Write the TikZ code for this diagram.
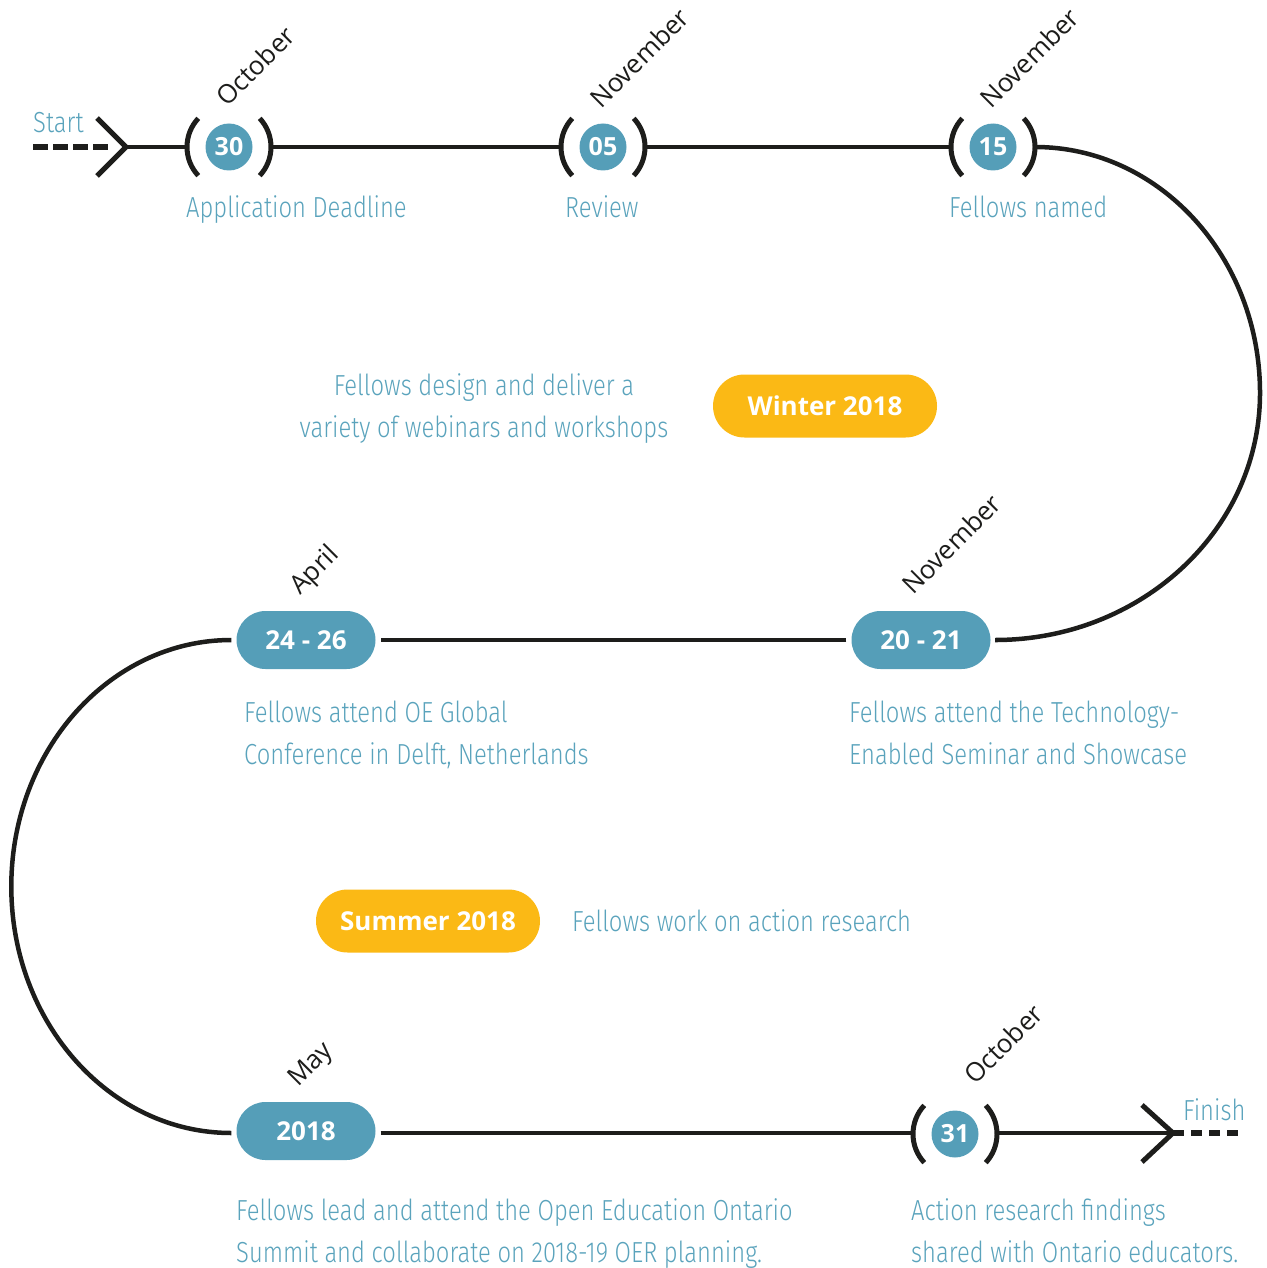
\documentclass[tikz,border=0pt]{standalone}
\usepackage{fontspec}
\setmainfont{Open Sans}
\newfontfamily\lightf{Fira Sans Light}[FakeStretch=0.82]
\usetikzlibrary{shapes.misc,calc}
\definecolor{tlblue}{HTML}{559EB8}
\definecolor{txtblue}{HTML}{5AA3BC}
\definecolor{tlyellow}{HTML}{FBB915}
\definecolor{tlblack}{HTML}{1D1D1B}
\begin{document}
\begin{tikzpicture}[x=1pt,y=-1pt,
  track/.style={draw=tlblack,line width=4.5pt},
  parenarc/.style={draw=tlblack,line width=5pt},
  chev/.style={draw=tlblack,line width=5pt},
  dashstart/.style={draw=tlblack,line width=6pt,dash pattern=on 15pt off 5pt},
  dashend/.style={draw=tlblack,line width=6pt,dash pattern=on 11pt off 7pt},
  datecirc/.style={circle,fill=tlblue,text=white,minimum size=47pt,inner sep=0pt,
    font=\fontsize{25}{30}\selectfont\bfseries},
  datepill/.style={rounded rectangle,fill=tlblue,text=white,minimum width=139pt,
    minimum height=58pt,inner sep=0pt,font=\fontsize{26}{30}\selectfont\bfseries},
  seasonpill/.style={rounded rectangle,fill=tlyellow,text=white,minimum width=224pt,
    minimum height=63pt,inner sep=0pt,font=\fontsize{26}{30}\selectfont\bfseries},
  month/.style={rotate=45,anchor=base west,inner sep=0pt,text=tlblack,
    font=\fontsize{26}{30}\selectfont},
  desc/.style={anchor=base west,inner sep=0pt,text=txtblue,align=left,
    font=\lightf\fontsize{29}{42}\selectfont},
  descc/.style={anchor=base,inner sep=0pt,text=txtblue,align=center,
    font=\lightf\fontsize{29}{42}\selectfont}
]
\useasboundingbox (0,0) rectangle (1266,1268);

% ---- date markers
\node[datecirc] (c30) at (229,147) {30};
\node[datecirc] (c05) at (603,147) {05};
\node[datecirc] (c15) at (993,147) {15};
\node[datecirc] (c31) at (955,1134) {31};
\node[datepill] (p2426) at (306,640) {24 - 26};
\node[datepill] (p2021) at (921,640) {20 - 21};
\node[datepill] (p2018) at (306,1131) {2018};
\node[seasonpill] (win) at (825,406) {Winter 2018};
\node[seasonpill] (sum) at (428,921) {Summer 2018};

% ---- parentheses around the circles
\foreach \c in {c30,c05,c15,c31}{
  \draw[parenarc] (\c) ++(137:42) arc[start angle=137,end angle=223,radius=42];
  \draw[parenarc] (\c) ++(-43:42) arc[start angle=-43,end angle=43,radius=42];
  \coordinate (\c L) at ($(\c)+(-42,0)$);
  \coordinate (\c R) at ($(\c)+(42,0)$);
}

% ---- start
\coordinate (dstart) at (33,147);
\coordinate (dstop) at (108,147);
\coordinate (stip) at (126,147);
\coordinate (sarmA) at (97,118);
\coordinate (sarmB) at (97,176);
\draw[dashstart] (dstart) -- (dstop);
\draw[chev] (sarmA) -- (stip) -- (sarmB);
\node[desc] (startlbl) at (33,133) {Start};

% ---- finish
\coordinate (ftip) at (1173,1133);
\coordinate (farmA) at (1142,1105);
\coordinate (farmB) at (1142,1162);
\coordinate (fend) at (1242,1133);
\draw[chev] (farmA) -- (ftip) -- (farmB);
\draw[dashend] (ftip) -- (fend);
\node[desc] (finlbl) at (1183,1120) {Finish};

% ---- track
\draw[track] (stip) -- (c30L);
\draw[track] (c30R) -- (c05L);
\draw[track] (c05R) -- (c15L);
\draw[track] (c15R) arc[start angle=-90,end angle=0,x radius=225,y radius=246]
  arc[start angle=0,end angle=90,x radius=265,y radius=247]
  -- ($(p2021.east)+(7,0)$);
\draw[track] ($(p2021.west)+(-5,0)$) -- ($(p2426.east)+(5,0)$);
\draw[track] ($(p2426.west)+(-5,0)$) arc[start angle=270,end angle=90,x radius=220,y radius=246.5]
  -- ($(p2018.west)+(-5,2)$);
\draw[track] ($(p2018.east)+(5,2)$) -- ($(c31L)+(0,-1)$);
\draw[track] ($(c31R)+(0,-1)$) -- (ftip);

% ---- months
\node[month] (m30) at ($(c30)+(-2,-39)$) {October};
\node[month] (m05) at ($(c05)+(-2,-37)$) {November};
\node[month] (m15) at ($(c15)+(-2,-37)$) {November};
\node[month] (m2021) at ($(p2021)+(-8,-44)$) {November};
\node[month] (m2426) at ($(p2426)+(-6,-44)$) {April};
\node[month] (m2018) at ($(p2018)+(-8,-43)$) {May};
\node[month] (m31) at ($(c31)+(20,-48)$) {October};

% ---- descriptions (base anchor = last line's baseline)
\node[desc] (t30) at (186,218) {Application Deadline};
\node[desc] (t05) at (565,218) {Review};
\node[desc] (t15) at (949,218) {Fellows named};
\node[descc] (twin) at (484,437) {Fellows design and deliver a\\variety of webinars and workshops};
\node[desc] (t2426) at (244,764) {Fellows attend OE Global\\Conference in Delft, Netherlands};
\node[desc] (t2021) at (849,764) {Fellows attend the Technology-\\Enabled Seminar and Showcase};
\node[desc] (tsum) at (572,931) {Fellows work on action research};
\node[desc] (t2018) at (236,1262) {Fellows lead and attend the Open Education Ontario\\Summit and collaborate on 2018-19 OER planning.};
\node[desc] (t31) at (911,1262) {Action research findings\\shared with Ontario educators.};
\end{tikzpicture}
\end{document}
